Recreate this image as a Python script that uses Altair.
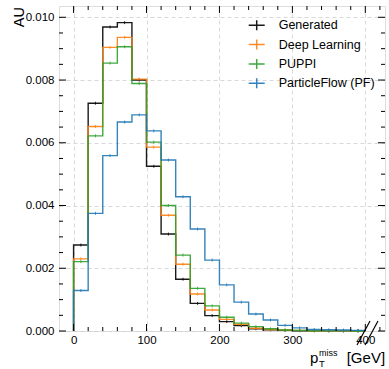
import altair as alt
import pandas as pd
import numpy as np

# ---- data ----
edges = list(range(0, 420, 20))  # bin edges 0..400 GeV
series_names = ["Generated", "Deep Learning", "PUPPI", "ParticleFlow (PF)"]
series_colors = ["#000000", "#ff7f0e", "#2ca02c", "#1f77b4"]

generated = [0.00274, 0.00726, 0.00969, 0.00983, 0.00800, 0.00525, 0.00309, 0.00165, 0.00088, 0.00049,
             0.00030, 0.00017, 0.00007, 0.00004, 0.00002, 0.00001, 0.00001, 0.000005, 0.000003, 0.000002]
deep = [0.00230, 0.00652, 0.00904, 0.00936, 0.00803, 0.00586, 0.00369, 0.00213, 0.00118, 0.00067,
        0.00037, 0.00021, 0.00009, 0.00005, 0.00003, 0.00002, 0.00001, 0.000005, 0.000003, 0.000002]
puppi = [0.00221, 0.00622, 0.00854, 0.00906, 0.00789, 0.00602, 0.00400, 0.00242, 0.00136, 0.00080,
         0.00044, 0.00025, 0.00014, 0.00007, 0.00003, 0.00002, 0.00001, 0.000005, 0.000003, 0.000002]
pf = [0.00129, 0.00375, 0.00559, 0.00666, 0.00689, 0.00638, 0.00545, 0.00428, 0.00325, 0.00226,
      0.00147, 0.00092, 0.00054, 0.00035, 0.00018, 0.00010, 0.00005, 0.00004, 0.00003, 0.00002]
all_values = [generated, deep, puppi, pf]

x_major = [0, 100, 200, 300, 400]
y_major = [0.000, 0.002, 0.004, 0.006, 0.008, 0.010]

# ---- layout ----
W, H = 326, 325
FONT = "Liberation Sans"
xs = alt.Scale(domain=[-20, 427], nice=False, zero=False)
ys = alt.Scale(domain=[0, 0.01036], nice=False, zero=False)

xaxis = alt.Axis(values=x_major, format="d", title=None, ticks=False, domain=False, grid=True,
                 gridDash=[4, 3], gridColor="#cfcfcf", gridWidth=0.8, labelFont=FONT,
                 labelFontSize=11.5, labelColor="black", labelPadding=3)
yaxis = alt.Axis(values=y_major, format=".3f", title=None, ticks=False, domain=False, grid=True,
                 gridDash=[4, 3], gridColor="#cfcfcf", gridWidth=0.8, labelFont=FONT,
                 labelFontSize=11.5, labelColor="black", labelPadding=5)

# step data
rows = []
for name, vals in zip(series_names, all_values):
    pts = [(edges[0], 0.0)] + [(edges[k], vals[k]) for k in range(len(vals))] + \
          [(edges[-1], vals[-1]), (edges[-1], 0.0)]
    for i, (xv, yv) in enumerate(pts):
        rows.append({"series": name, "x": xv, "y": yv, "i": i})
steps = pd.DataFrame(rows)

centers = [(edges[k] + edges[k + 1]) / 2 for k in range(len(edges) - 1)]
err_rows = []
for name, vals in zip(series_names, all_values):
    for c, v in zip(centers, vals):
        err_rows.append({"series": name, "x": c, "y": v})
errs = pd.DataFrame(err_rows)

color = alt.Color("series:N", scale=alt.Scale(domain=series_names, range=series_colors),
                  legend=alt.Legend(orient="none", legendX=188.7, legendY=10.3, title=None,
                                    symbolType="M-1,0H1M0,-0.625V0.625", symbolSize=256,
                                    symbolStrokeWidth=1.5, symbolFillColor="transparent",
                                    labelFont=FONT, labelFontSize=12.5, labelColor="black",
                                    labelOffset=13, rowPadding=2.3, padding=0))

layers = []
for name, col in zip(series_names, series_colors):
    layers.append(
        alt.Chart(steps).transform_filter(alt.datum.series == name)
        .mark_line(interpolate="step-after", strokeWidth=1.4, opacity=0.9)
        .encode(x=alt.X("x:Q", scale=xs, axis=xaxis),
                y=alt.Y("y:Q", scale=ys, axis=yaxis),
                order=alt.Order("i:Q"),
                color=color)
    )
    layers.append(
        alt.Chart(errs).transform_filter(alt.datum.series == name)
        .mark_rule(strokeWidth=1, yOffset=1.5, y2Offset=-1.5, color=col, opacity=0.8)
        .encode(x=alt.X("x:Q", scale=xs, axis=xaxis),
                y=alt.Y("y:Q", scale=ys, axis=yaxis),
                y2="y:Q")
    )

# inward ticks on all four sides
x_minor = [v for v in range(20, 427, 20) if v % 100 != 0]
y_minor = [round(v * 0.0005, 5) for v in range(1, 21) if v % 4 != 0]


def xticks(vals, length, top):
    df = pd.DataFrame({"x": vals})
    return alt.Chart(df).mark_rule(color="black", strokeWidth=1).encode(
        x=alt.X("x:Q", scale=xs, axis=xaxis),
        y=alt.value(0 if top else H), y2=alt.value(length if top else H - length))


def yticks(vals, length, right):
    df = pd.DataFrame({"y": vals})
    return alt.Chart(df).mark_rule(color="black", strokeWidth=1).encode(
        y=alt.Y("y:Q", scale=ys, axis=yaxis),
        x=alt.value(W if right else 0), x2=alt.value(W - length if right else length))


for top in (False, True):
    layers.append(xticks(x_major, 7, top))
    layers.append(xticks(x_minor, 4, top))
for right in (False, True):
    layers.append(yticks(y_major, 7, right))
    layers.append(yticks(y_minor, 4, right))


def label(txt, x, y, size, angle=0, align="left"):
    kw = dict(font=FONT, fontSize=size, color="black", align=align, baseline="alphabetic")
    if angle:
        kw["angle"] = angle
    return alt.Chart(pd.DataFrame({"t": [txt]})).mark_text(**kw).encode(
        text="t:N", x=alt.value(x), y=alt.value(y))


layers.append(label("p", 251, 356.5, 15))
layers.append(label("T", 260, 360.5, 9.5))
layers.append(label("miss", 260, 349.5, 9))
layers.append(label("[GeV]", 287.7, 356.5, 15))
layers.append(label("AU", -35.5, 1, 14.5, angle=270, align="right"))

# axis-break marks near x = 400
for x0 in (298, 306):
    layers.append(alt.Chart(pd.DataFrame({"k": [0]})).mark_rule(color="black", strokeWidth=1.2).encode(
        x=alt.value(x0), x2=alt.value(x0 + 13), y=alt.value(339), y2=alt.value(315)))

chart = alt.layer(*layers).properties(
    width=W, height=H,
    autosize=alt.AutoSizeParams(type="none"),
    padding={"left": 59, "top": 6, "right": 4, "bottom": 38},
).configure_view(stroke="black", strokeWidth=1.2).configure(background="white")

chart.save("out.html", embed_options={"renderer": "svg", "actions": False})
